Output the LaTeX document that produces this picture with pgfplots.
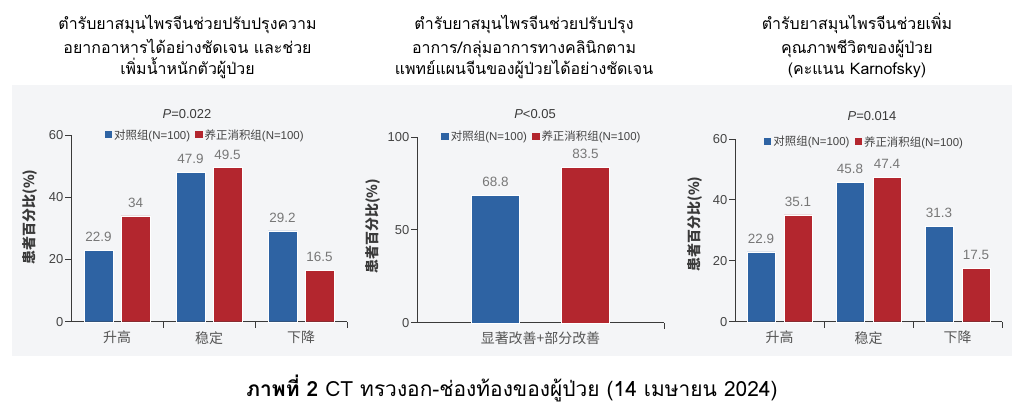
\documentclass[border=0pt]{standalone}
\usepackage{pgfplots}
\pgfplotsset{compat=1.18}
\usepackage{fontspec}
\setmainfont{Liberation Sans}
\newfontfamily\thai[Script=Thai]{Loma}
\newfontfamily\cjk{Noto Sans CJK SC}

\definecolor{cblue}{HTML}{2E63A3}
\definecolor{cred}{HTML}{B3262E}
\definecolor{axgray}{HTML}{3A3A3A}
\definecolor{tickgray}{HTML}{444444}
\definecolor{valgray}{HTML}{777777}
\definecolor{catgray}{HTML}{555555}
\definecolor{bgray}{HTML}{F4F5F7}

\pgfplotsset{
  panel/.style={
    scale only axis,
    clip=false,
    ybar,
    axis lines*=left,
    enlargelimits=false,
    ymin=0,
    axis line style={draw=axgray, line width=0.9bp},
    tick align=outside,
    major tick length=6bp,
    tick style={draw=axgray, line width=0.9bp},
    /pgf/number format/assume math mode=true,
    yticklabel style={font=\fontsize{13}{13}\selectfont, text=tickgray, inner sep=1.5bp},
    xticklabels={},
    extra x tick style={tick style={draw=none},
      tick label style={font=\cjk\fontsize{14}{14}\selectfont, text=catgray}},
    ylabel={\cjk\bfseries 患者百分比(\%)},
    ylabel style={text=axgray, font=\fontsize{14}{14}\selectfont, anchor=center},
    nodes near coords,
    nodes near coords style={font=\fontsize{13.5}{13.5}\selectfont, text=valgray, yshift=5bp},
    legend columns=2,
    legend style={draw=none, fill=none, inner sep=0pt, anchor=center,
      font=\fontsize{11.5}{11.5}\selectfont, text=tickgray,
      /tikz/every even column/.append style={column sep=3bp}},
    legend image code/.code={\path[##1,draw=none] (0bp,-3.5bp) rectangle (7.5bp,3.5bp);},
  },
  blueb/.style={fill=cblue, draw=white, line width=0.4bp},
  redb/.style={fill=cred, draw=white, line width=0.4bp},
}

\begin{document}
\begin{tikzpicture}[x=1bp,y=1bp]
\path[use as bounding box] (0,0) rectangle (1024,409);
\fill[bgray] (12,53) rectangle (1012,324);

% ---- titles
\begin{scope}[every node/.style={anchor=base, font=\thai\fontsize{16}{16}\selectfont, text=black, inner sep=0pt}]
\node at (187.5,379.5) {ตำรับยาสมุนไพรจีนช่วยปรับปรุงความ};
\node at (187.5,356) {อยากอาหารได้อย่างชัดเจน และช่วย};
\node at (187.5,335) {เพิ่มน้ำหนักตัวผู้ป่วย};
\node at (524,379.5) {ตำรับยาสมุนไพรจีนช่วยปรับปรุง};
\node at (524,356) {อาการ/กลุ่มอาการทางคลินิกตาม};
\node at (524,335) {แพทย์แผนจีนของผู้ป่วยได้อย่างชัดเจน};
\node at (857,379.5) {ตำรับยาสมุนไพรจีนช่วยเพิ่ม};
\node at (857,356) {คุณภาพชีวิตของผู้ป่วย};
\node at (857,335) {(คะแนน Karnofsky)};
\end{scope}

% ---- p values
\begin{scope}[every node/.style={anchor=base, font=\fontsize{13}{13}\selectfont, text=axgray, inner sep=0pt}]
\node at (187,291) {\textit{P}=0.022};
\node at (535,291) {\textit{P}<0.05};
\node at (872,288.5) {\textit{P}=0.014};
\end{scope}

% ---- panel 1
\begin{axis}[panel,
  at={(71bp,87.3bp)}, anchor=south west,
  width=276bp, height=186.7bp,
  xmin=-0.5, xmax=2.5, ymax=60,
  ytick={0,20,40,60},
  xtick={0.5,1.5,2.5},
  extra x ticks={0,1,2},
  extra x tick labels={升高,稳定,下降},
  bar width=29bp,
  ylabel style={at={(axis description cs:-0.1486,0.561)}},
  legend style={at={(0.486,1.0)}},
]
\addplot[blueb, bar shift=-18.5bp] coordinates {(0,22.9) (1,47.9) (2,29.2)};
\addplot[redb, bar shift=18.5bp] coordinates {(0,34) (1,49.5) (2,16.5)};
\addlegendentry{{\cjk 对照组}(N=100)}
\addlegendentry{{\cjk 养正消积组}(N=100)}
\end{axis}

% ---- panel 2
\begin{axis}[panel,
  at={(417bp,86.3bp)}, anchor=south west,
  width=247bp, height=185.7bp,
  xmin=-0.5, xmax=0.5, ymax=100,
  ytick={0,50,100},
  xtick={0.5},
  extra x ticks={0},
  extra x tick labels={显著改善+部分改善},
  bar width=48bp,
  ylabel style={at={(axis description cs:-0.177,0.52)}},
  legend style={at={(0.506,1.005)}},
]
\addplot[blueb, bar shift=-45bp] coordinates {(0,68.8)};
\addplot[redb, bar shift=45bp] coordinates {(0,83.5)};
\addlegendentry{{\cjk 对照组}(N=100)}
\addlegendentry{{\cjk 养正消积组}(N=100)}
\end{axis}

% ---- panel 3
\begin{axis}[panel,
  at={(735bp,87.3bp)}, anchor=south west,
  width=267bp, height=182.7bp,
  xmin=-0.5, xmax=2.5, ymax=60,
  ytick={0,20,40,60},
  xtick={0.5,1.5,2.5},
  extra x ticks={0,1,2},
  extra x tick labels={升高,稳定,下降},
  bar width=28bp,
  ylabel style={at={(axis description cs:-0.15,0.535)}},
  legend style={at={(0.485,0.984)}},
]
\addplot[blueb, bar shift=-18.5bp] coordinates {(0,22.9) (1,45.8) (2,31.3)};
\addplot[redb, bar shift=18.5bp] coordinates {(0,35.1) (1,47.4) (2,17.5)};
\addlegendentry{{\cjk 对照组}(N=100)}
\addlegendentry{{\cjk 养正消积组}(N=100)}
\end{axis}

% ---- caption
\node[anchor=base, inner sep=0pt, font=\thai\fontsize{21}{21}\selectfont] at (512,13)
  {\textbf{ภาพที่ 2} CT ทรวงอก-ช่องท้องของผู้ป่วย (14 เมษายน 2024)};
\end{tikzpicture}
\end{document}
